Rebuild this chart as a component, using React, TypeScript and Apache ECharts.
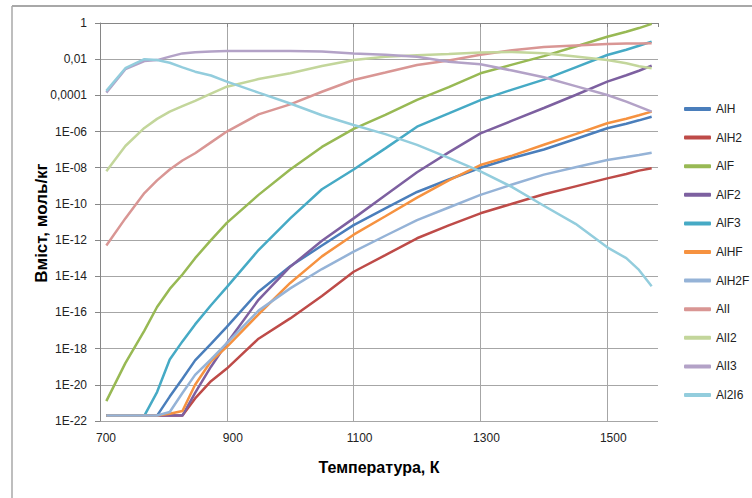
import React, { useEffect, useRef } from "react";
import * as echarts from "echarts";

// Temperature, K
const temps = [710, 740, 770, 790, 810, 830, 850, 875, 900, 950, 1000, 1050, 1100, 1150, 1200, 1250, 1300, 1350, 1400, 1450, 1500, 1530, 1550, 1570];

// Content, mol/kg, stored as decimal exponents (log10 of value)
const alH = [-21.7, -21.7, -21.7, -21.7, -20.65, -19.66, -18.65, -17.74, -16.8, -14.85, -13.45, -12.3, -11.17, -10.25, -9.34, -8.65, -8.0, -7.46, -6.99, -6.41, -5.82, -5.57, -5.38, -5.18];
const alH2 = [-21.7, -21.7, -21.7, -21.7, -21.7, -21.7, -20.75, -19.8, -19.1, -17.45, -16.33, -15.09, -13.75, -12.83, -11.9, -11.19, -10.52, -9.99, -9.47, -9.03, -8.59, -8.35, -8.16, -8.03];
const alF = [-20.9, -18.8, -17.0, -15.7, -14.7, -13.9, -13.0, -12.0, -11.05, -9.5, -8.1, -6.85, -5.85, -5.08, -4.25, -3.54, -2.78, -2.3, -1.83, -1.3, -0.76, -0.48, -0.28, -0.05];
const alF2 = [-21.7, -21.7, -21.7, -21.7, -21.7, -21.7, -20.45, -19.0, -17.7, -15.3, -13.47, -12.04, -10.8, -9.52, -8.25, -7.15, -6.1, -5.4, -4.7, -3.98, -3.24, -2.89, -2.64, -2.36];
const alF3 = [-21.7, -21.7, -21.7, -20.4, -18.6, -17.6, -16.66, -15.6, -14.6, -12.55, -10.8, -9.19, -8.1, -6.93, -5.73, -5.0, -4.26, -3.68, -3.13, -2.45, -1.77, -1.48, -1.26, -1.03];
const alHF = [-21.7, -21.7, -21.7, -21.7, -21.6, -21.45, -20.0, -18.7, -17.9, -16.1, -14.37, -12.9, -11.7, -10.68, -9.65, -8.7, -7.85, -7.33, -6.73, -6.14, -5.54, -5.29, -5.1, -4.9];
const alH2F = [-21.7, -21.7, -21.7, -21.7, -21.5, -20.45, -19.45, -18.6, -17.7, -15.9, -14.67, -13.6, -12.64, -11.76, -10.9, -10.2, -9.5, -8.93, -8.38, -7.97, -7.57, -7.41, -7.3, -7.17];
const alI = [-12.3, -10.8, -9.4, -8.7, -8.1, -7.6, -7.2, -6.6, -6.0, -5.05, -4.5, -3.8, -3.15, -2.74, -2.32, -2.07, -1.75, -1.5, -1.33, -1.24, -1.16, -1.14, -1.13, -1.12];
const alI2 = [-8.2, -6.8, -5.8, -5.3, -4.9, -4.6, -4.3, -3.9, -3.52, -3.1, -2.78, -2.38, -2.05, -1.86, -1.78, -1.71, -1.63, -1.6, -1.67, -1.85, -2.05, -2.23, -2.39, -2.5];
const alI3 = [-3.85, -2.55, -2.1, -2.05, -1.86, -1.68, -1.62, -1.58, -1.55, -1.55, -1.55, -1.58, -1.68, -1.75, -1.86, -2.14, -2.28, -2.63, -3.0, -3.49, -3.98, -4.35, -4.62, -4.9];
const al2I6 = [-3.75, -2.5, -2.0, -2.05, -2.2, -2.45, -2.69, -2.9, -3.24, -3.85, -4.45, -5.1, -5.64, -6.14, -6.74, -7.46, -8.2, -9.07, -10.1, -11.1, -12.4, -13.0, -13.65, -14.55];

const seriesNames = ["AlH", "AlH2", "AlF", "AlF2", "AlF3", "AlHF", "AlH2F", "AlI", "AlI2", "AlI3", "Al2I6"];
const seriesValues = [alH, alH2, alF, alF2, alF3, alHF, alH2F, alI, alI2, alI3, al2I6];
const seriesColors = ["#4A7EBB", "#BE4B48", "#98B954", "#7D60A0", "#46AAC5", "#F69240", "#95B3D7", "#D99694", "#C3D69B", "#B3A2C7", "#93CDDD"];

const xTicks = { min: 700, max: 1580, interval: 200 };
const yTicks = { min: -22, max: 0, interval: 2 };

function yLabel(v: number): string {
  if (v === 0) return "1";
  if (v === -2) return "0,01";
  if (v === -4) return "0,0001";
  const e = -v;
  return "1E-" + (e < 10 ? "0" + e : String(e));
}

export default function App() {
  const ref = useRef<HTMLDivElement>(null);
  useEffect(() => {
    if (!ref.current) return;
    const chart = echarts.init(ref.current, null, { renderer: "svg" });
    const grid = "#A6A6A6";
    const axisC = "#868686";
    chart.setOption({
      animation: false,
      backgroundColor: "#ffffff",
      textStyle: { fontFamily: "Liberation Sans" },
      grid: { left: 100, top: 23, right: 94, bottom: 77 },
      xAxis: {
        type: "value",
        min: xTicks.min,
        max: xTicks.max,
        interval: xTicks.interval,
        axisLine: { show: true, lineStyle: { color: axisC, width: 1 } },
        axisTick: { show: true, length: 4, lineStyle: { color: axisC } },
        axisLabel: {
          color: "#222",
          fontSize: 12,
          margin: 11,
          padding: [0, 0, 0, 12],
          formatter: (v: number) => (v === xTicks.max ? "" : String(v)),
        },
        splitLine: {
          show: true,
          lineStyle: { color: [grid, grid, grid, grid, grid, "rgba(0,0,0,0)"], width: 1 },
        },
      },
      yAxis: {
        type: "value",
        min: yTicks.min,
        max: yTicks.max,
        interval: yTicks.interval,
        axisLine: { show: true, lineStyle: { color: axisC, width: 1 } },
        axisTick: { show: true, length: 5, lineStyle: { color: axisC } },
        axisLabel: { color: "#222", fontSize: 12, margin: 13, formatter: yLabel },
        splitLine: { show: true, lineStyle: { color: grid, width: 1 } },
      },
      legend: {
        orient: "vertical",
        left: 684,
        top: 102,
        padding: 0,
        icon: "roundRect",
        itemWidth: 27,
        itemHeight: 4,
        itemGap: 14.6,
        textStyle: { fontSize: 12, color: "#222", lineHeight: 14, fontFamily: "Liberation Sans" },
        data: seriesNames,
      },
      series: seriesNames.map((name, si) => ({
        name,
        type: "line",
        symbol: "none",
        showSymbol: false,
        smooth: false,
        data: temps.map((t, i) => [t, seriesValues[si][i]]),
        lineStyle: { color: seriesColors[si], width: 2.5 },
        itemStyle: { color: seriesColors[si] },
      })),
      graphic: [
        { type: "line", shape: { x1: 12, y1: 6, x2: 752, y2: 6 }, style: { stroke: "#A8A8A8", lineWidth: 2 } },
        { type: "line", shape: { x1: 12, y1: 6, x2: 12, y2: 498 }, style: { stroke: "#A8A8A8", lineWidth: 1.5 } },
        {
          type: "text",
          x: 379,
          y: 467,
          style: {
            text: "Температура, К",
            font: "bold 16px 'Liberation Sans'",
            fill: "#000",
            align: "center",
            verticalAlign: "middle",
          },
        },
        {
          type: "text",
          x: 41,
          y: 223,
          rotation: Math.PI / 2,
          style: {
            text: "Вміст, моль/кг",
            font: "bold 17px 'Liberation Sans'",
            fill: "#000",
            align: "center",
            verticalAlign: "middle",
          },
        },
      ],
    });
    return () => chart.dispose();
  }, []);
  return (
    <div
      ref={ref}
      style={{ position: "fixed", left: 0, top: 0, width: 752, height: 498, background: "#fff" }}
    />
  );
}
